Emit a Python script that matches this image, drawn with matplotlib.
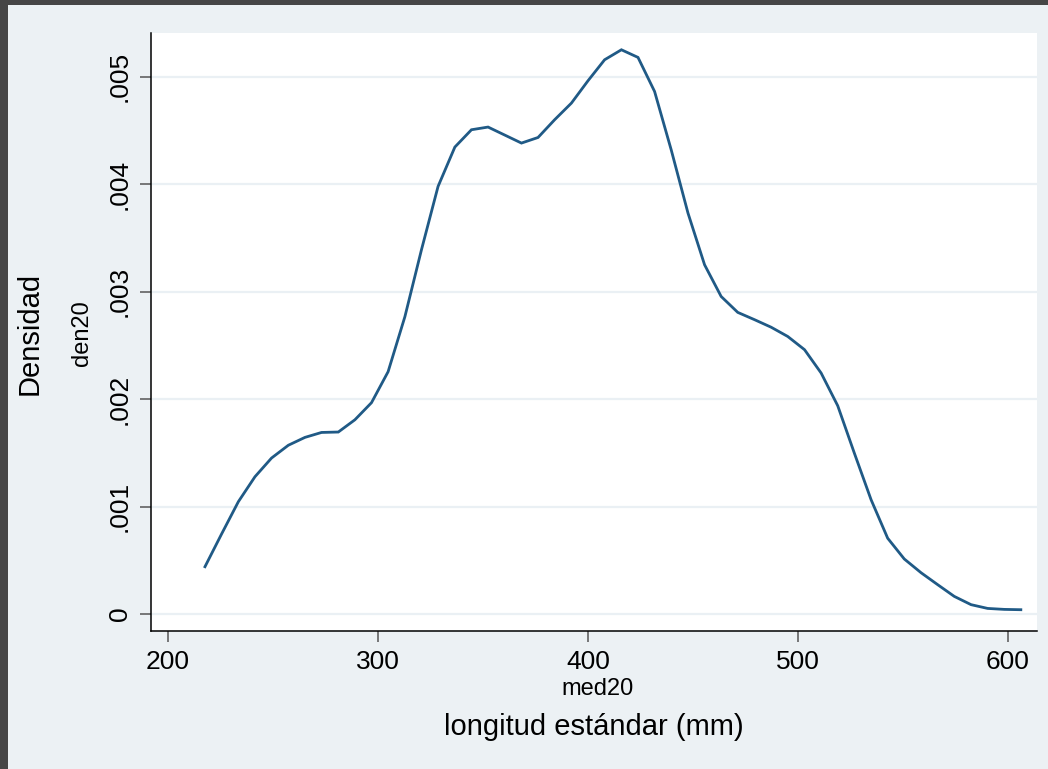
import matplotlib
matplotlib.use("Agg")
import matplotlib.pyplot as plt
from matplotlib.patches import Rectangle

# Kernel density estimate of med20 (50 evaluation points)
med20 = [217.6, 225.5, 233.5, 241.4, 249.3, 257.3, 265.2, 273.1, 281.1, 289.0,
         296.9, 304.8, 312.8, 320.7, 328.6, 336.6, 344.5, 352.4, 360.3, 368.3,
         376.2, 384.1, 392.1, 400.0, 407.9, 415.9, 423.8, 431.7, 439.6, 447.6,
         455.5, 463.4, 471.3, 479.3, 487.2, 495.1, 503.1, 511.0, 518.9, 526.8,
         534.8, 542.7, 550.6, 558.6, 566.5, 574.4, 582.4, 590.3, 598.2, 606.1]
den20 = [0.000440, 0.000744, 0.001045, 0.001277, 0.001451, 0.001570, 0.001643,
         0.001689, 0.001693, 0.001807, 0.001966, 0.002254, 0.002766, 0.003389,
         0.003978, 0.004344, 0.004505, 0.004530, 0.004456, 0.004381, 0.004433,
         0.004598, 0.004753, 0.004961, 0.005156, 0.005249, 0.005178, 0.004861,
         0.004319, 0.003730, 0.003249, 0.002954, 0.002806, 0.002738, 0.002668,
         0.002582, 0.002459, 0.002242, 0.001938, 0.001498, 0.001063, 0.000705,
         0.000512, 0.000384, 0.000273, 0.000164, 0.000087, 0.000052, 0.000043,
         0.000040]

x_ticks = [200, 300, 400, 500, 600]
x_tick_labels = ["200", "300", "400", "500", "600"]
y_ticks = [0, 0.001, 0.002, 0.003, 0.004, 0.005]
y_tick_labels = ["0", ".001", ".002", ".003", ".004", ".005"]

W, H = 1048, 769
plt.rcParams["font.family"] = ["Liberation Sans", "DejaVu Sans"]

fig = plt.figure(figsize=(W / 100, H / 100), dpi=100)
fig.patch.set_facecolor("#ecf1f4")

# dark frame strips along the top and left edges
fig.patches.append(Rectangle((0, 1 - 5 / H), 1, 5 / H, transform=fig.transFigure,
                             facecolor="#464646", edgecolor="none", zorder=0))
fig.patches.append(Rectangle((0, 0), 8 / W, 1, transform=fig.transFigure,
                             facecolor="#464646", edgecolor="none", zorder=0))

left, right, top, bottom = 151, 1037, 33, 631
ax = fig.add_axes([left / W, 1 - bottom / H, (right - left) / W, (bottom - top) / H])
ax.set_facecolor("white")

ax.plot(med20, den20, color="#205a86", lw=2.0, solid_joinstyle="miter", zorder=3)

ax.set_xlim(191.9, 613.8)
ax.set_ylim(-0.000158, 0.005405)

ax.set_xticks(x_ticks)
ax.set_xticklabels(x_tick_labels, fontsize=19)
ax.set_yticks(y_ticks)
ax.set_yticklabels(y_tick_labels, fontsize=19, rotation=90, va="center")

for yv in y_ticks:
    ax.axhline(yv, color="#eaf0f4", lw=1.6, zorder=1)

for side in ("top", "right"):
    ax.spines[side].set_visible(False)
for side in ("left", "bottom"):
    ax.spines[side].set_color("black")
    ax.spines[side].set_linewidth(1.1)

ax.tick_params(axis="both", direction="out", length=8, width=1.1, color="#555555",
               labelcolor="black", pad=6)

def fx(px):
    return px / W

def fy(py):
    return 1 - py / H

fig.text(fx(30), fy(333), "Densidad", rotation=90, ha="center", va="center", fontsize=21)
fig.text(fx(82), fy(333), "den20", rotation=90, ha="center", va="center", fontsize=17)
fig.text(fx(598), fy(689), "med20", ha="center", va="center", fontsize=17)
fig.text(fx(594), fy(727), "longitud estándar (mm)", ha="center", va="center", fontsize=21)

fig.savefig("out.png", dpi=100, facecolor=fig.get_facecolor())
